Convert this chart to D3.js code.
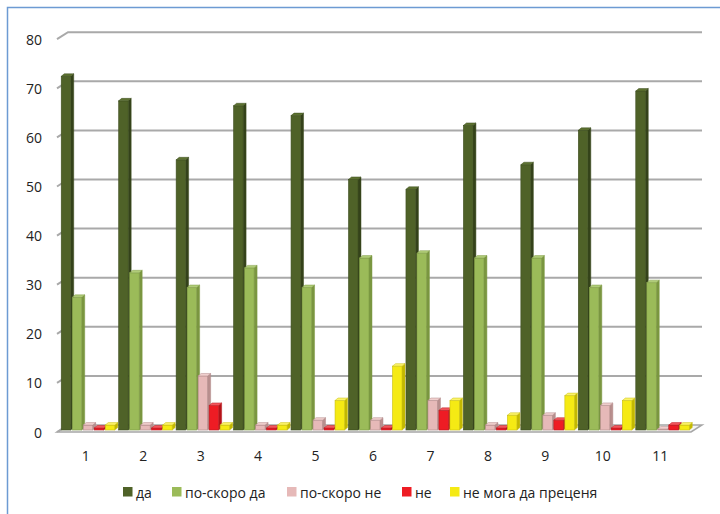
<!DOCTYPE html>
<html>
<head>
<meta charset="utf-8">
<script src="https://cdn.jsdelivr.net/npm/d3@7"></script>
<style>
  html, body { margin: 0; padding: 0; background: #fff; }
  svg { display: block; }
  text { font-family: "Open Sans", "Liberation Sans", sans-serif; fill: #222; }
</style>
</head>
<body>
<svg id="chart" width="720" height="514"></svg>
<script>
const categories = ["1","2","3","4","5","6","7","8","9","10","11"];
const seriesNames = ["да", "по-скоро да", "по-скоро не", "не", "не мога да преценя"];
const da          = [72, 67, 55, 66, 64, 51, 49, 62, 54, 61, 69];
const poSkoroDa   = [27, 32, 29, 33, 29, 35, 36, 35, 35, 29, 30];
const poSkoroNe   = [1, 1, 11, 1, 2, 2, 6, 1, 3, 5, 0.2];
const ne          = [0.4, 0.4, 5, 0.4, 0.4, 0.4, 4, 0.4, 2, 0.4, 1];
const neMoga      = [1, 1, 1, 1, 6, 13, 6, 3, 7, 6, 1];
const yTicks = [0, 10, 20, 30, 40, 50, 60, 70, 80];

const seriesValues = [da, poSkoroDa, poSkoroNe, ne, neMoga];
const fills   = ["#4f6228", "#9bbb59", "#e6b9b8", "#ee1c24", "#f5ea14"];
const sides   = ["#34421a", "#7a9640", "#b88f8e", "#b51218", "#c2b800"];
const tops    = ["#5d7230", "#b0cc78", "#f0cfce", "#f4585e", "#fbf36a"];
const strokes = ["#3f4f20", "#7e9a45", "#b08988", "#b81a20", "#c9bf10"];

const svg = d3.select("#chart");

// border
svg.append("path")
  .attr("d", "M7.5,514 L7.5,7.5 L720,7.5")
  .attr("fill", "none").attr("stroke", "#6d9bd3").attr("stroke-width", 1.5);

const depthX = 11, depthY = -7;     // back-wall offset
const x = d3.scaleBand().domain(categories).range([57, 689]).padding(0);
const yFront = d3.scaleLinear().domain([0, 80]).range([432, 39.2]);
const yBack = v => yFront(v) + depthY;
const yBar = d3.scaleLinear().domain([0, 80]).range([430, 37]);

// floor
const fx0 = 57, fx1 = 691;
svg.append("path")
  .attr("d", `M${fx0},${yFront(0)} L${fx1},${yFront(0)} L${fx1 + depthX},${yBack(0)} L${fx0 + depthX},${yBack(0)} Z`)
  .attr("fill", "#f4f4f4").attr("stroke", "#a6a6a6").attr("stroke-width", 1.5);

// gridlines (back wall) + slanted left ticks
const grid = svg.append("g");
yTicks.forEach(v => {
  if (v === 0) return;
  grid.append("path")
    .attr("d", `M${fx0},${yFront(v)} L${fx0 + depthX},${yBack(v)} L${fx1 + depthX},${yBack(v)}`)
    .attr("fill", "none").attr("stroke", "#a9a9a9").attr("stroke-width", 2);
});
grid.append("path")
  .attr("d", `M${fx0},${yFront(0)} L${fx0 + depthX},${yBack(0)}`)
  .attr("fill", "none").attr("stroke", "#a9a9a9").attr("stroke-width", 1.5);

// y labels
svg.append("g").selectAll("text").data(yTicks).join("text")
  .attr("x", 42).attr("y", d => yFront(d))
  .attr("text-anchor", "end").attr("dominant-baseline", "central")
  .attr("font-size", 14).text(d => d);

// x labels
svg.append("g").selectAll("text").data(categories).join("text")
  .attr("x", d => x(d) + x.bandwidth() / 2).attr("y", 455)
  .attr("text-anchor", "middle").attr("dominant-baseline", "central")
  .attr("font-size", 14).text(d => d);

// bars (3D)
const inner = d3.scaleBand().domain(d3.range(5)).range([-24.5, 30.5]).padding(0);
const bw = 9.5, sdx = 3, sdy = -2.5;
const barsG = svg.append("g");
seriesValues.forEach((vals, s) => {
  const g = barsG.append("g");
  vals.forEach((v, i) => {
    const cx = x(categories[i]) + x.bandwidth() / 2;
    const x0 = cx + inner(s);
    const yt = yBar(v), yb = yBar(0);
    g.append("path")
      .attr("d", `M${x0 + bw},${yt} L${x0 + bw + sdx},${yt + sdy} L${x0 + bw + sdx},${yb + sdy} L${x0 + bw},${yb} Z`)
      .attr("fill", sides[s]).attr("stroke", strokes[s]).attr("stroke-width", 0.5);
    g.append("rect")
      .attr("x", x0).attr("y", yt).attr("width", bw).attr("height", Math.max(0, yb - yt))
      .attr("fill", fills[s]).attr("stroke", strokes[s]).attr("stroke-width", 0.6);
    g.append("path")
      .attr("d", `M${x0},${yt} L${x0 + sdx},${yt + sdy} L${x0 + bw + sdx},${yt + sdy} L${x0 + bw},${yt} Z`)
      .attr("fill", tops[s]).attr("stroke", strokes[s]).attr("stroke-width", 0.5);
  });
});

// legend
const legendX = [123, 172, 287, 402, 450];
const lg = svg.append("g");
seriesNames.forEach((name, s) => {
  lg.append("rect").attr("x", legendX[s]).attr("y", 487).attr("width", 9.5).attr("height", 9.5)
    .attr("fill", fills[s]);
  lg.append("text").attr("x", legendX[s] + 13).attr("y", 492)
    .attr("dominant-baseline", "central").attr("font-size", 14).text(name);
});
</script>
</body>
</html>
